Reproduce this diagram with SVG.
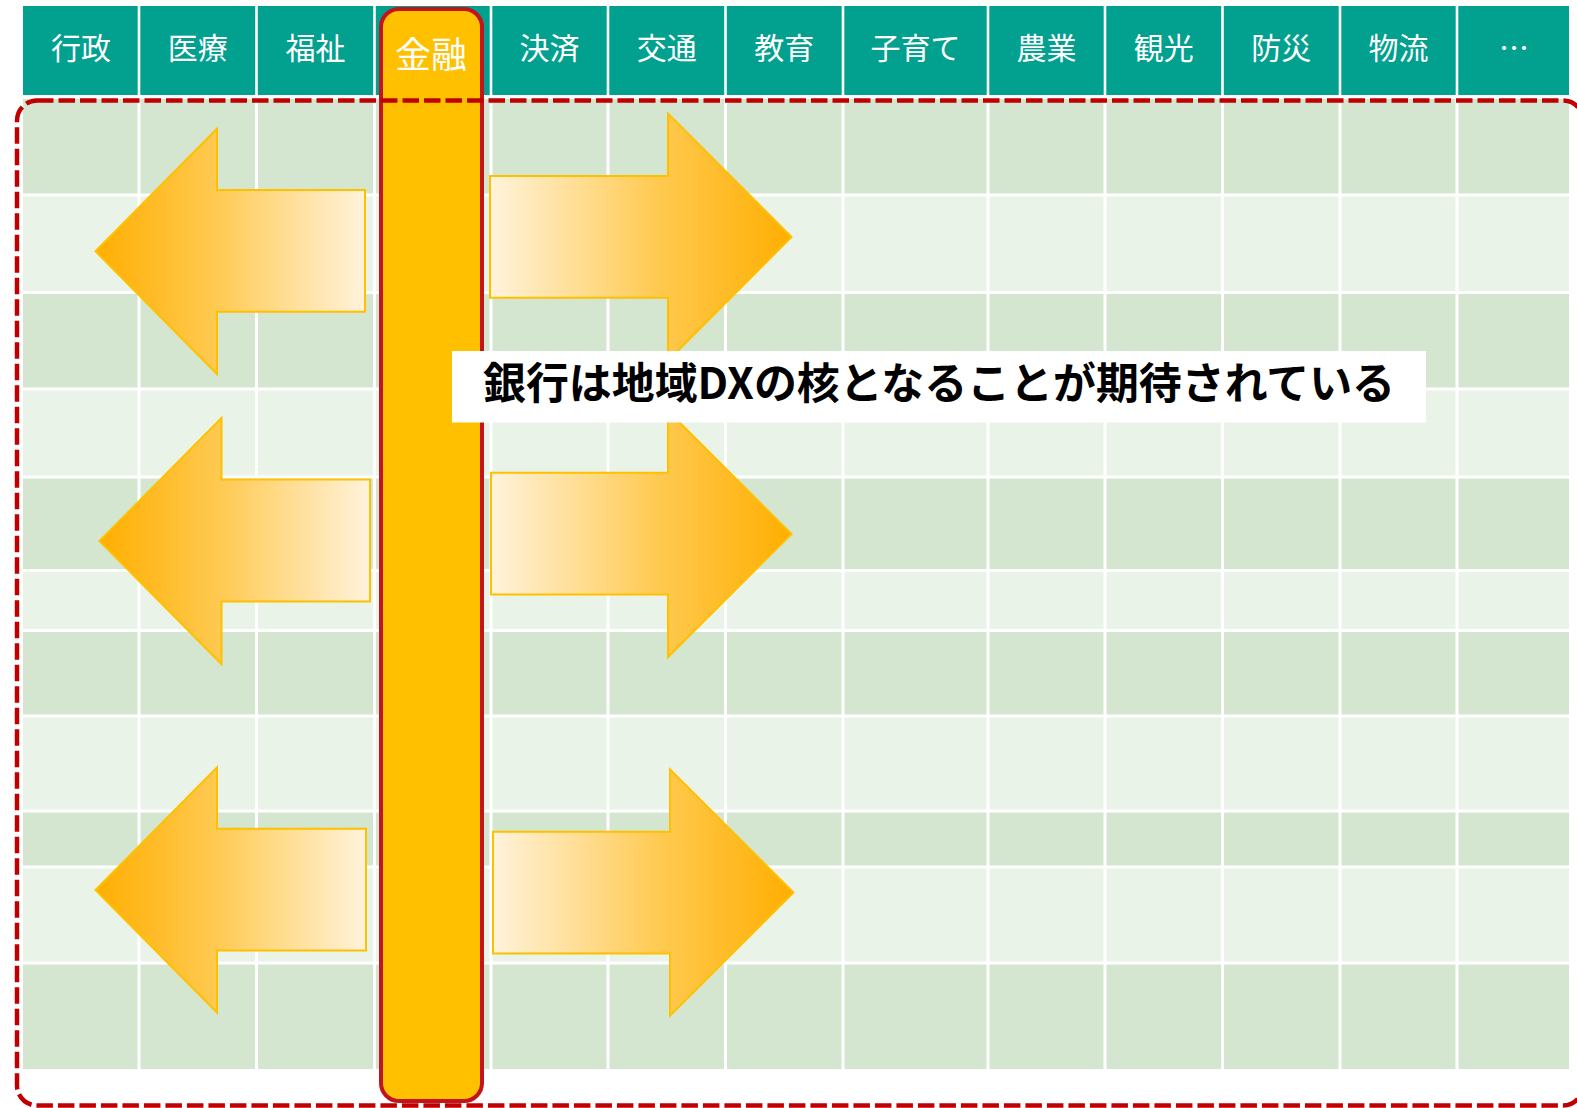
<svg xmlns="http://www.w3.org/2000/svg" width="1577" height="1108" viewBox="0 0 1577 1108">
  <defs>
    <linearGradient id="gLeft" x1="0" y1="0" x2="1" y2="0">
      <stop offset="0" stop-color="#FFAE00"/>
      <stop offset="0.45" stop-color="#FFCA52"/>
      <stop offset="1" stop-color="#FFF3DC"/>
    </linearGradient>
    <linearGradient id="gRight" x1="0" y1="0" x2="1" y2="0">
      <stop offset="0" stop-color="#FFF3DC"/>
      <stop offset="0.55" stop-color="#FFCA52"/>
      <stop offset="1" stop-color="#FFAE00"/>
    </linearGradient>
    <style>
      .hdr { font-family: "Noto Sans CJK JP", "Liberation Sans", sans-serif; font-size: 30px; fill: #FFFFFF; text-anchor: middle; dominant-baseline: central; }
      .arrowL { fill: url(#gLeft); stroke: #FFC000; stroke-width: 2; stroke-linejoin: miter; }
      .arrowR { fill: url(#gRight); stroke: #FFC000; stroke-width: 2; stroke-linejoin: miter; }
      .wline { stroke: #FFFFFF; stroke-width: 3; fill: none; }
      .hline { stroke: #FFFFFF; stroke-width: 2.6; fill: none; }
    </style>
  </defs>

  <rect x="0" y="0" width="1577" height="1108" fill="#FFFFFF"/>

  <!-- grid background -->
  <g id="grid">
    <rect x="23" y="99" width="1546" height="970" fill="#D4E6CF"/>
    <rect x="23" y="195" width="1546" height="97.5" fill="#E9F3E7"/>
    <rect x="23" y="389" width="1546" height="88" fill="#E9F3E7"/>
    <rect x="23" y="570.5" width="1546" height="60" fill="#E9F3E7"/>
    <rect x="23" y="716" width="1546" height="95" fill="#E9F3E7"/>
    <rect x="23" y="867" width="1546" height="96" fill="#E9F3E7"/>
    <path class="wline" d="M23 195H1569M23 292.5H1569M23 389H1569M23 477H1569M23 570.5H1569M23 630.5H1569M23 716H1569M23 811H1569M23 867H1569M23 963H1569"/>
    <path class="wline" d="M139 99V1069M256.5 99V1069M374.5 99V1069M491 99V1069M608 99V1069M725.5 99V1069M843 99V1069M988 99V1069M1105 99V1069M1222.5 99V1069M1340 99V1069M1457 99V1069"/>
  </g>

  <!-- header -->
  <g id="header">
    <rect x="23" y="6" width="1546" height="89" fill="#02A08E"/>
    <path class="hline" d="M139 6V95M256.5 6V95M374.5 6V95M491 6V95M608 6V95M725.5 6V95M843 6V95M988 6V95M1105 6V95M1222.5 6V95M1340 6V95M1457 6V95"/>
    <text class="hdr" x="81" y="45.5">行政</text>
    <text class="hdr" x="197.8" y="45.5">医療</text>
    <text class="hdr" x="315.5" y="45.5">福祉</text>
    <text class="hdr" x="549.5" y="45.5">決済</text>
    <text class="hdr" x="666.8" y="45.5">交通</text>
    <text class="hdr" x="784.3" y="45.5">教育</text>
    <text class="hdr" x="915.5" y="45.5">子育て</text>
    <text class="hdr" x="1046.5" y="45.5">農業</text>
    <text class="hdr" x="1163.8" y="45.5">観光</text>
    <text class="hdr" x="1281.3" y="45.5">防災</text>
    <text class="hdr" x="1398.5" y="45.5">物流</text>
    <text class="hdr" x="1514" y="46">…</text>
  </g>

  <!-- connectors (arrows) -->
  <g id="connectors">
    <polygon class="arrowL" points="95.5,251.3 217,128.7 217,190 365,190 365,311.8 217,311.8 217,374"/>
    <polygon class="arrowL" points="99.5,541 221.5,418 221.5,479.5 370,479.5 370,601.5 221.5,601.5 221.5,664"/>
    <polygon class="arrowL" points="95.5,890 217,767.5 217,828.7 366,828.7 366,950.5 217,950.5 217,1012.5"/>
    <polygon class="arrowR" points="490,176 668,176 668,113.6 791.5,237 668,360.5 668,297.7 490,297.7"/>
    <polygon class="arrowR" points="491,472.7 668,472.7 668,411 791.5,534 668,657 668,594.4 491,594.4"/>
    <polygon class="arrowR" points="493,831.7 670,831.7 670,769.4 793.5,892.5 670,1015.6 670,953.4 493,953.4"/>
  </g>

  <!-- 金融 bar -->
  <g id="kinyu">
    <rect x="381" y="9" width="101" height="1092" rx="18" ry="18" fill="#FFC000" stroke="#C0161B" stroke-width="4"/>
    <text x="431" y="52" font-family="'Noto Sans CJK JP', 'Liberation Sans', sans-serif" font-size="36" fill="#FFFFFF" text-anchor="middle" dominant-baseline="central">金融</text>
  </g>

  <!-- dashed region -->
  <g id="region">
    <rect x="17" y="100.5" width="1566" height="1005" rx="20" ry="20" fill="none" stroke="#C00000" stroke-width="4.5" stroke-dasharray="16.5 5"/>
  </g>

  <!-- label -->
  <g id="label">
    <rect x="452" y="351" width="974" height="71.5" fill="#FFFFFF"/>
    <text x="483" y="379.5" font-family="'Noto Sans CJK JP', 'Liberation Sans', sans-serif" font-size="43" font-weight="700" fill="#000000" dominant-baseline="central" textLength="912" lengthAdjust="spacingAndGlyphs">銀行は地域DXの核となることが期待されている</text>
  </g>
</svg>
